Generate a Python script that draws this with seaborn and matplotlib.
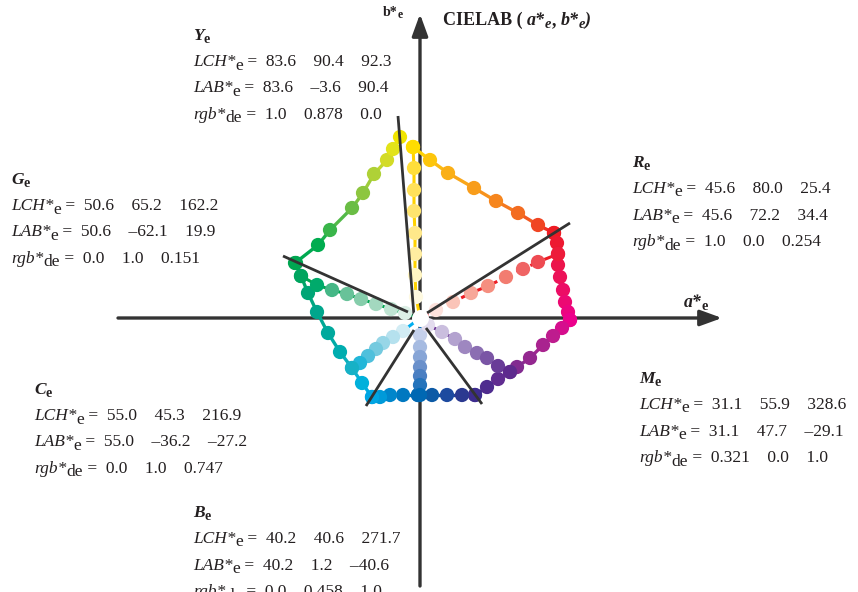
import matplotlib
matplotlib.use("Agg")
import matplotlib.pyplot as plt
import pandas as pd
import seaborn as sns
from matplotlib.colors import LinearSegmentedColormap, to_hex, to_rgb
from matplotlib.transforms import IdentityTransform

# dot positions in the (a*, b*) plane, schematic units
edge_ry = [(-3.5, 85.5), (5, 79), (14, 72.5), (27, 65), (38, 58.5), (49, 52.5), (59, 46.5), (67, 42.5)]
edge_rm = [(67, 42.5), (68.5, 37.5), (69, 32), (69, 26.5), (70, 20.5), (71.5, 14), (72.5, 8), (74, 3), (75, -1)]
edge_mv = [(75, -1), (71, -5), (66.5, -9), (61.5, -13.5), (55, -20), (48.5, -24.5), (45, -27),
           (39, -30.5), (33.5, -34.5), (27.5, -38.5)]
edge_vb = [(27.5, -38.5), (21, -38.5), (13.5, -38.5), (6, -38.5), (-1, -38.5)]
edge_bc = [(-1, -38.5), (-8.5, -38.5), (-15, -38.5), (-20, -39.5), (-24, -39.5)]
edge_cg = [(-24, -39.5), (-29, -32.5), (-34, -25), (-40, -17), (-46, -7.5), (-51.5, 3), (-56, 12.5),
           (-59.5, 21), (-62, 27.5)]
edge_gy = [(-62.5, 27.5), (-51, 36.5), (-45, 44), (-34, 55), (-28.5, 62.5), (-23, 72), (-16.5, 79),
           (-13.5, 84.5), (-10, 90.5)]

spoke_y = [(-2, 10.5), (-2.5, 21.5), (-2.5, 32), (-2.5, 42.5), (-3, 53.5), (-3, 64), (-3, 75), (-3.5, 85.5)]
spoke_r = [(8, 4), (16.5, 8), (25.5, 12.5), (34, 16), (43, 20.5), (51.5, 24.5), (59, 28), (69, 32)]
spoke_g = [(-7.5, 2.5), (-14.5, 4.5), (-22, 7), (-29.5, 9.5), (-36.5, 12), (-44, 14), (-51.5, 16.5), (-59.5, 21)]
spoke_c = [(-8.5, -6.5), (-13.5, -9.5), (-18.5, -12.5), (-22, -15.5), (-26, -19), (-30, -22.5), (-34, -25)]
spoke_b = [(0, -8.5), (0, -14.5), (0, -19.5), (0, -24.5), (0, -29), (0, -33.5), (0, -38.5)]
spoke_v = [(4, -3.5), (11, -7), (17.5, -10.5), (22.5, -14.5), (28.5, -17.5), (33.5, -20), (39, -24), (45, -27)]

# black hue lines (outer end, inner end)
hue_lines = [((-11, 101), (-3, 1)), ((75, 47.5), (3.5, 2.5)), ((-68.5, 31), (-6, 3)),
             ((-27, -44), (-3, -6)), ((31, -43), (3, -5))]

# text blocks
block_names = ["Y", "G", "R", "M", "C", "B"]
lch_vals = [("83.6", "90.4", "92.3"), ("50.6", "65.2", "162.2"), ("45.6", "80.0", "25.4"),
            ("31.1", "55.9", "328.6"), ("55.0", "45.3", "216.9"), ("40.2", "40.6", "271.7")]
lab_vals = [("83.6", "\u20133.6", "90.4"), ("50.6", "\u201362.1", "19.9"), ("45.6", "72.2", "34.4"),
            ("31.1", "47.7", "\u201329.1"), ("55.0", "\u201336.2", "\u201327.2"), ("40.2", "1.2", "\u201340.6")]
rgb_vals = [("1.0", "0.878", "0.0"), ("0.0", "1.0", "0.151"), ("1.0", "0.0", "0.254"),
            ("0.321", "0.0", "1.0"), ("0.0", "1.0", "0.747"), ("0.0", "0.458", "1.0")]

series = {
    "ry": (edge_ry, ["#FFDD00", "#FBB416", "#F7941D", "#F26522", "#ED1C24"]),
    "rm": (edge_rm, ["#ED1C24", "#EC1258", "#EC008C"]),
    "mv": (edge_mv, ["#EC008C", "#B8208E", "#8A2A90", "#662D91", "#3D2C8E"]),
    "vb": (edge_vb, ["#3D2C8E", "#2B3990", "#1D4A9F", "#0C5AA6", "#0068B3"]),
    "bc": (edge_bc, ["#0068B3", "#0078C0", "#0086CB", "#009AD9", "#00A5E3"]),
    "cg": (edge_cg, ["#00A5E3", "#00B0DB", "#17B1C6", "#00ADAF", "#00A99D", "#00A68C", "#00A576",
                     "#00A45F", "#00A651"]),
    "gy": (edge_gy, ["#00A651", "#00AC4F", "#39B54A", "#6ABD45", "#8DC63F", "#AFD136", "#D3DB26",
                     "#E2E31A", "#F0E400"]),
    "sy": (spoke_y, ["#FEF9E0", "#FFF5C2", "#FFEDA0", "#FFE88A", "#FFE46E", "#FFE15A", "#FFDE3A", "#FFDD00"]),
    "sr": (spoke_r, ["#FDE2DC", "#FAC4B8", "#F7A799", "#F58F80", "#F27C70", "#EF6464", "#EE4B52", "#ED1C3A"]),
    "sg": (spoke_g, ["#DCEFE6", "#C0E4D3", "#A3D8BF", "#86CDAB", "#68C299", "#45B786", "#00AA6B", "#00A45F"]),
    "sc": (spoke_c, ["#D2ECF4", "#B5E1EE", "#97D6E7", "#74CADF", "#4FC0DC", "#22B6D8", "#17B1C6"]),
    "sb": (spoke_b, ["#C5D0EB", "#A6BBE1", "#87A5D6", "#6A90CB", "#4A7FC2", "#2473BB", "#0068B3"]),
    "sv": (spoke_v, ["#E3DCEE", "#CABEDE", "#B3A2CF", "#9E87C0", "#8B6EB2", "#7A55A5", "#693C98", "#5E2A8E"]),
}
spoke_line = {"sy": ("#FFD200", "-"), "sr": ("#ED1C24", "--"), "sg": ("#00A651", "-"),
              "sc": ("#00AEEF", "-"), "sb": ("#0068B3", "-"), "sv": ("#662D91", "-")}

plt.rcParams["font.family"] = ["Liberation Serif", "DejaVu Serif"]

W, H = 858, 592
fig = plt.figure(figsize=(W / 100, H / 100), dpi=100)
ax = fig.add_axes([0, 0, 1, 1])
ax.set_xlim(-210, 219)
ax.set_ylim(-137, 159)
ax.axis("off")

# axes with arrows
axis_col = "#333333"
arrow = dict(arrowstyle="-|>,head_length=1.1,head_width=0.4", color=axis_col, lw=2.4,
             mutation_scale=12, shrinkA=0, shrinkB=0)
ax.annotate("", xy=(151, 0), xytext=(-151, 0), arrowprops=arrow, zorder=1)
ax.annotate("", xy=(0, 152), xytext=(0, -134), arrowprops=arrow, zorder=1)

rows = []
for name, (pts, anchors) in series.items():
    n = len(pts)
    if len(anchors) == n:
        cols = anchors
    else:
        cmap = LinearSegmentedColormap.from_list(name, anchors)
        cols = [to_hex(cmap(i / (n - 1))) for i in range(n)]
    for i, (a, b) in enumerate(pts):
        rows.append({"key": f"{name}{i}", "a": a, "b": b, "color": cols[i], "series": name})

    # connecting lines
    if name in spoke_line:
        c, ls = spoke_line[name]
        ax.plot([0] + [p[0] for p in pts], [0] + [p[1] for p in pts], color=c, ls=ls, lw=2.2,
                zorder=2, dashes=(3, 2) if ls == "--" else (None, None))
    else:
        for i in range(n - 1):
            mix = [(x + y) / 2 for x, y in zip(to_rgb(cols[i]), to_rgb(cols[i + 1]))]
            ax.plot([pts[i][0], pts[i + 1][0]], [pts[i][1], pts[i + 1][1]], color=mix, lw=2.4, zorder=2)

df = pd.DataFrame(rows)
palette = dict(zip(df["key"], df["color"]))
sns.scatterplot(data=df, x="a", y="b", hue="key", palette=palette, legend=False, s=105,
                linewidth=0, ax=ax, zorder=3)

for (a0, b0), (a1, b1) in hue_lines:
    ax.plot([a0, a1], [b0, b1], color=axis_col, lw=2.0, zorder=4, solid_capstyle="butt")

# white disc at the origin
ax.scatter([0], [0], s=150, color="white", linewidth=0, zorder=5)

ax.set_xlabel("")
ax.set_ylabel("")

renderer = fig.canvas.get_renderer()


def chain(x, y, pieces, size):
    # pieces: (text, style, weight, drop in px, size scale), placed left to right
    for s, style, weight, dy, scale in pieces:
        t = fig.text(x, H - y - dy, s, fontsize=size * scale, fontstyle=style, fontweight=weight,
                     transform=IdentityTransform(), va="baseline", color="#231F20")
        x = t.get_window_extent(renderer).x1


gap = "    "

# axis labels and title
chain(383, 16, [("b*", "normal", "bold", 0, 1), ("e", "normal", "bold", 2.5, 0.85)], 10)
chain(443, 25, [("CIELAB ( ", "normal", "bold", 0, 1), ("a*", "italic", "bold", 0, 1),
                ("e", "italic", "bold", 3, 0.8), (", ", "normal", "bold", 0, 1),
                ("b*", "italic", "bold", 0, 1), ("e", "italic", "bold", 3, 0.8),
                (")", "italic", "bold", 0, 1)], 13)
chain(684, 307, [("a*", "italic", "bold", 0, 1), ("e", "normal", "bold", 3, 0.8)], 12.8)

block_pos = {"Y": (193, 40), "G": (11, 184), "R": (632, 167), "M": (639, 383), "C": (34, 394), "B": (193, 517)}
fs = 12.5
for k, name in enumerate(block_names):
    x0, y0 = block_pos[name]
    chain(x0, y0, [(name, "italic", "bold", 0, 1), ("e", "normal", "bold", 3, 0.8)], fs)
    chain(x0, y0 + 26, [("LCH*", "italic", "normal", 0, 1), ("e", "normal", "normal", 3.5, 1),
                        (" =  " + gap.join(lch_vals[k]), "normal", "normal", 0, 1)], fs)
    chain(x0, y0 + 52.5, [("LAB*", "italic", "normal", 0, 1), ("e", "normal", "normal", 3.5, 1),
                          (" =  " + gap.join(lab_vals[k]), "normal", "normal", 0, 1)], fs)
    chain(x0, y0 + 79, [("rgb*", "italic", "normal", 0, 1), ("de", "normal", "normal", 3.5, 1),
                        (" =  " + gap.join(rgb_vals[k]), "normal", "normal", 0, 1)], fs)

fig.savefig("out.png", dpi=100)
